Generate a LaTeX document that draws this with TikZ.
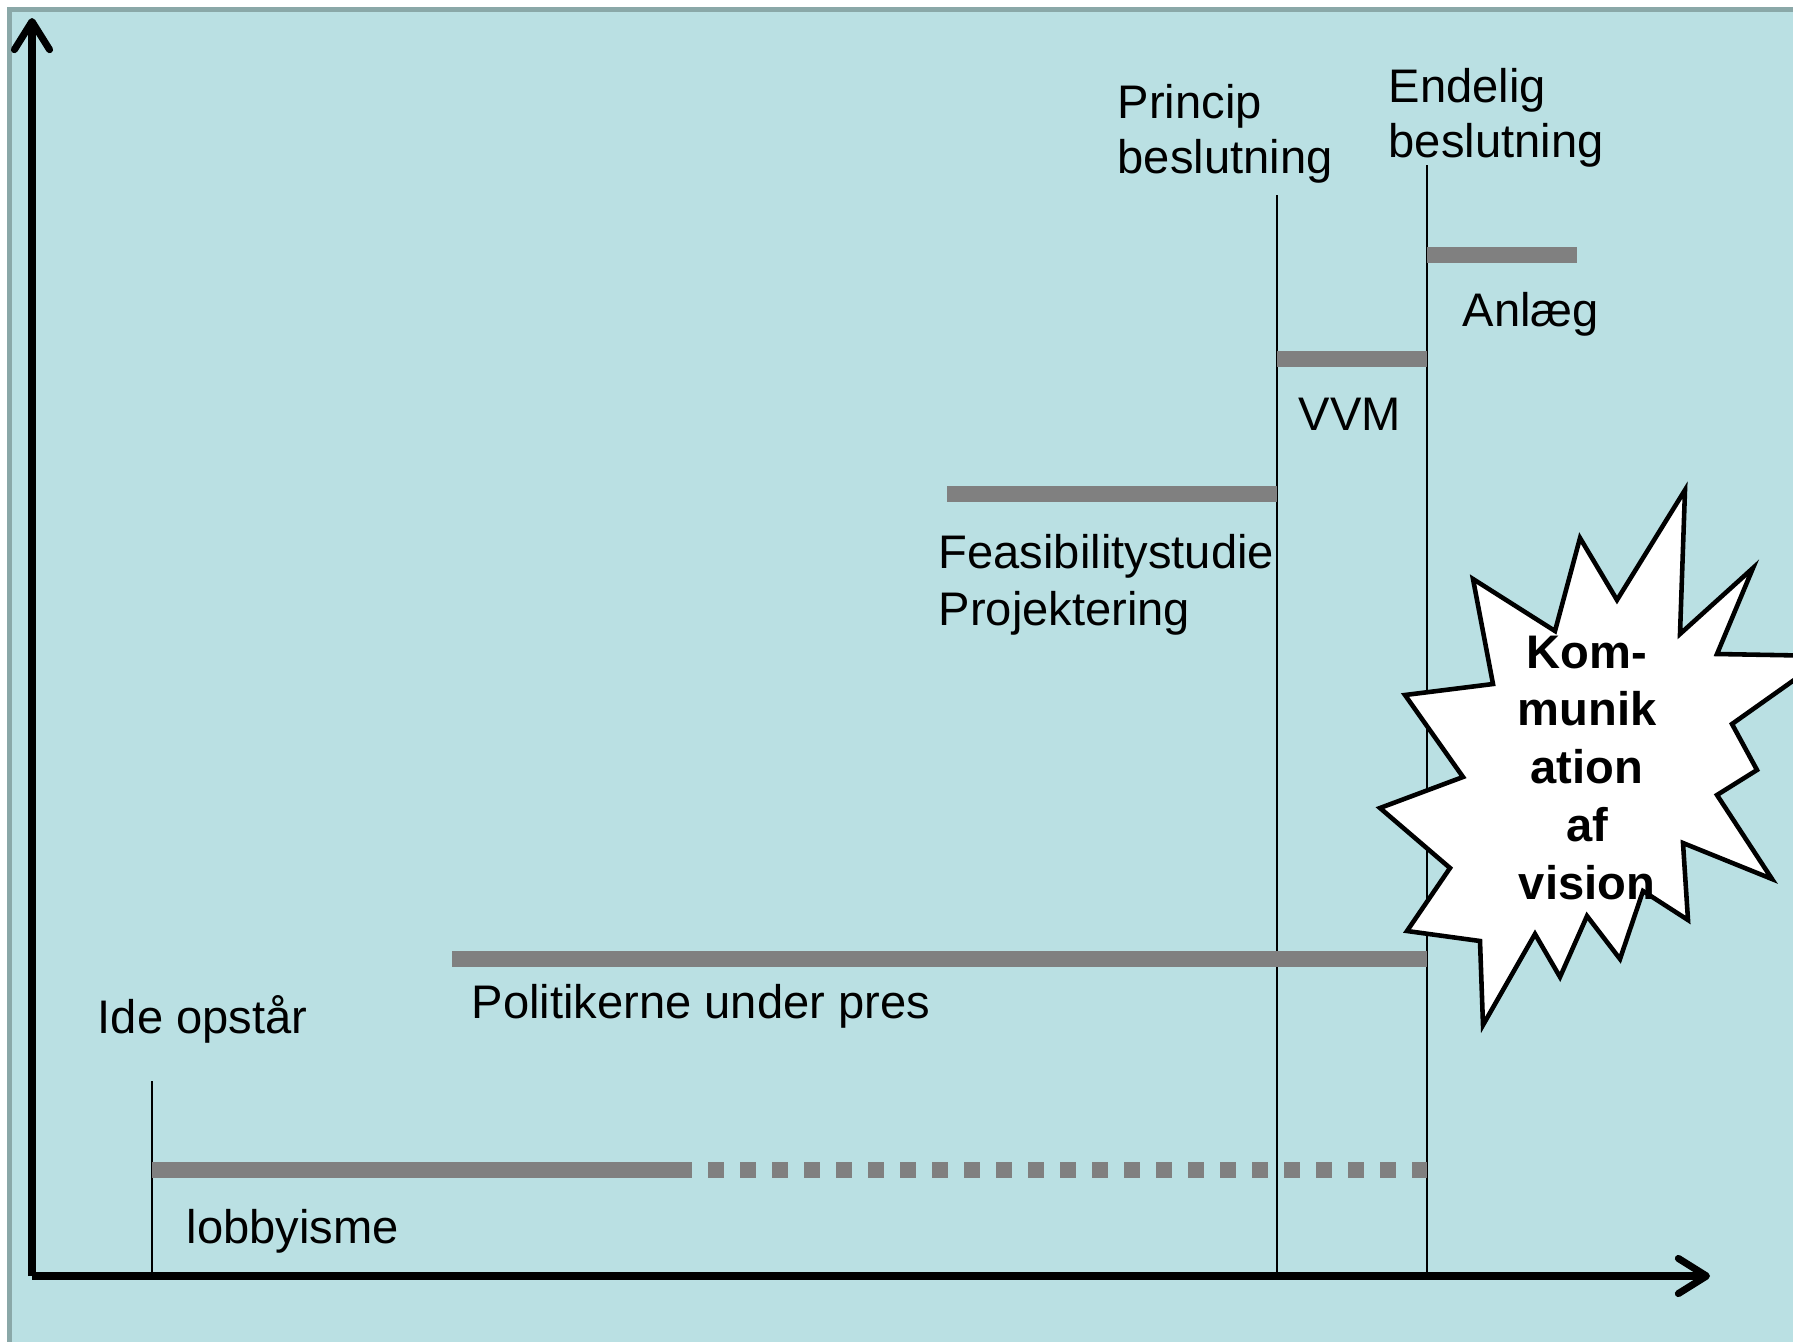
\documentclass[tikz,border=0pt]{standalone}
\usepackage{fontspec}
\setmainfont{Liberation Sans}
\usepackage{tikz}
\usetikzlibrary{arrows.meta}
\tikzset{>={Straight Barb[length=8pt,width=10pt,round]}}
\definecolor{slidebg}{RGB}{186,224,227}
\definecolor{slideframe}{RGB}{138,168,168}
\tikzset{
    phase/.style={draw=gray, line width=4.55pt},
    milestone/.style={line width=0.6pt},
    axis/.style={line width=2pt, ->},
    lbl/.style={anchor=base west, inner sep=0pt, align=left, font=\fontsize{13.4}{15.6}\selectfont},
    burst/.style={draw, fill=white, line width=1.3pt},
}

\begin{document}
\begin{tikzpicture}[x=0.01cm, y=-0.01cm]
    \useasboundingbox (0,0) rectangle (1793,1342);
    \clip (0,0) rectangle (1793,1342);
    \draw[fill=slidebg, draw=slideframe, line width=1.4pt] (9.5,9.5) rectangle (1900,1450);
    \coordinate (origin) at (32,1276);
    \coordinate (y end) at (32,18);
    \coordinate (x end) at (1710,1276);
    \draw[axis] (origin) -- (y end);
    \draw[axis] (origin) -- (x end);
    \foreach \stage/\x/\top in {ide/152/1081, princip/1277/195, endelig/1427/165} {
        \coordinate (\stage top) at (\x, \top);
        \coordinate (\stage bot) at (\x, 1276);
        \draw[milestone] (\stage bot) -- (\stage top);
    }
    \draw[phase] (1427,255) -- (1577,255);
    \draw[phase] (1277,359) -- (1427,359);
    \draw[phase] (947,494) -- (1277,494);
    \draw[phase] (452,959) -- (1427,959);
    \draw[phase] (152,1170) -- (676,1170);
    \draw[phase, dash pattern=on 4.55pt off 4.55pt] (676,1170) -- (1427,1170);
    % multi-line labels sit on the baseline of their last line
    \node[lbl] (princip) at (1117,173) {Princip\\beslutning};
    \node[lbl] (endelig) at (1388,157) {Endelig\\beslutning};
    \node[lbl] (anlaeg) at (1462,326) {Anlæg};
    \node[lbl] (vvm) at (1298,430) {VVM};
    \node[lbl, font=\fontsize{13.4}{16.2}\selectfont] (feasibility) at (938,625) {Feasibilitystudie\\Projektering};
    \node[lbl] (politikerne) at (471,1018) {Politikerne under pres};
    \node[lbl] (ide) at (97,1033) {Ide opstår};
    \node[lbl] (lobby) at (186,1243) {lobbyisme};
    % starburst
    \draw[burst] (1685,490) -- (1680,634) -- (1753,568) -- (1717,654) -- (1828,656)
        -- (1732,724) -- (1757,770) -- (1717,795) -- (1772,879) -- (1683,843)
        -- (1688,920) -- (1643,891) -- (1620,959) -- (1587,916) -- (1560,977)
        -- (1535,934) -- (1483,1025) -- (1480,941) -- (1407,931) -- (1450,868)
        -- (1380,808) -- (1463,777) -- (1405,695) -- (1493,684) -- (1473,579)
        -- (1555,631) -- (1580,538) -- (1617,600) -- cycle;
    \node[anchor=base, inner sep=0pt, align=center, font=\fontsize{13.4}{16.4}\selectfont\bfseries] (vision) at (1587,899) {Kom-\\munik\\ation\\af\\vision};
\end{tikzpicture}
\end{document}
